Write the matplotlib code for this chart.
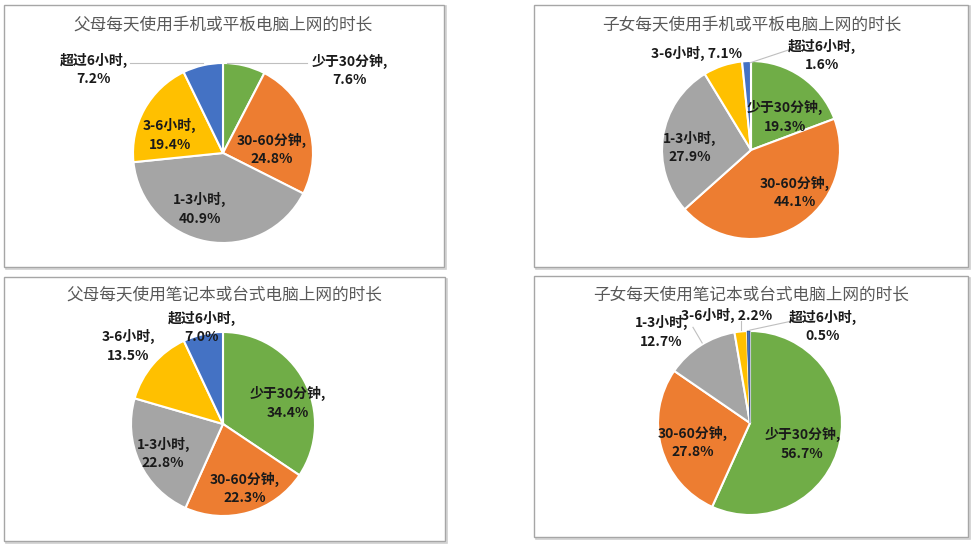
import matplotlib.pyplot as plt
from matplotlib.patches import Rectangle

plt.rcParams['font.family'] = ['Noto Sans CJK SC', 'DejaVu Sans']

# 数据
categories = ['少于30分钟', '30-60分钟', '1-3小时', '3-6小时', '超过6小时']
colors = ['#70AD47', '#ED7D31', '#A5A5A5', '#FFC000', '#4472C4']

titles = ['父母每天使用手机或平板电脑上网的时长',
          '子女每天使用手机或平板电脑上网的时长',
          '父母每天使用笔记本或台式电脑上网的时长',
          '子女每天使用笔记本或台式电脑上网的时长']
parent_mobile = [7.6, 24.8, 40.9, 19.4, 7.2]
child_mobile = [19.3, 44.1, 27.9, 7.1, 1.6]
parent_pc = [34.4, 22.3, 22.8, 13.5, 7.0]
child_pc = [56.7, 27.8, 12.7, 2.2, 0.5]
values = [parent_mobile, child_mobile, parent_pc, child_pc]

# 布局 (像素)
W, H = 971, 546
boxes = [(4, 5, 444, 267), (534, 5, 968, 267),
         (4, 277, 445, 541), (534, 276, 968, 537)]
centers = [(223, 153, 90), (751, 150, 89), (223, 424, 92), (750, 423, 92)]
title_pos = [(223, 25), (752, 25), (224, 295), (751, 295)]
# 标签位置, 以半径为单位
label_pos = [
    [(1.41, 0.92), (0.54, 0.04), (-0.26, -0.62), (-0.59, 0.20), (-1.44, 0.93)],
    [(0.38, 0.37), (0.49, -0.48), (-0.69, 0.03), (-0.61, 1.09), (0.80, 1.06)],
    [(0.70, 0.23), (0.24, -0.70), (-0.65, -0.32), (-1.03, 0.85), (-0.23, 1.05)],
    [(0.57, -0.23), (-0.62, -0.21), (-0.96, 0.99), (-0.25, 1.17), (0.79, 1.05)],
]
one_line = [[], [3], [], [3]]
leaders = [
    [((0.04, 1.0), (0.93, 1.0)), ((-1.03, 1.0), (-0.22, 1.0))],
    [((-0.01, 0.98), (0.44, 1.13))],
    [],
    [((0.0, 1.01), (0.51, 1.12)), ((-0.62, 1.04), (-0.52, 0.87)),
     ((-0.1, 1.11), (-0.1, 1.01))],
]

fig = plt.figure(figsize=(W / 100, H / 100), dpi=100)
fig.patch.set_facecolor('white')

for i in range(4):
    x0, y0, x1, y1 = boxes[i]
    # 阴影 + 边框
    fig.add_artist(Rectangle(((x0 + 1.5) / W, 1 - (y1 + 1.5) / H), (x1 - x0) / W, (y1 - y0) / H,
                             transform=fig.transFigure, facecolor='none', edgecolor='#d0d0d0',
                             lw=1.2, zorder=-20))
    fig.add_artist(Rectangle((x0 / W, 1 - y1 / H), (x1 - x0) / W, (y1 - y0) / H,
                             transform=fig.transFigure, facecolor='white', edgecolor='#a6a6a6',
                             lw=1.0, zorder=-10))
    tx, ty = title_pos[i]
    fig.text(tx / W, 1 - ty / H, titles[i], ha='center', va='center', fontsize=12, color='#595959')

    cx, cy, r = centers[i]
    h = 1.6 * r
    ax = fig.add_axes([(cx - h) / W, 1 - (cy + h) / H, 2 * h / W, 2 * h / H])
    ax.patch.set_visible(False)
    wedges, _ = ax.pie(values[i], colors=colors, startangle=90, counterclock=False, radius=1,
                       wedgeprops=dict(edgecolor='white', linewidth=1.5))
    for w, v in zip(wedges, values[i]):
        if v < 1:  # 很窄的扇区
            w.set_linewidth(0.4)
            w.set_edgecolor('#1f3864')
    ax.set_xlim(-1.6, 1.6)
    ax.set_ylim(-1.6, 1.6)
    ax.axis('off')
    for (a, b) in leaders[i]:
        ax.plot([a[0], b[0]], [a[1], b[1]], color='#bfbfbf', lw=0.8)
    for j in range(len(categories)):
        if j in one_line[i]:
            s = '%s, %.1f%%' % (categories[j], values[i][j])
        else:
            s = '%s,\n%.1f%%' % (categories[j], values[i][j])
        lx, ly = label_pos[i][j]
        ax.text(lx, ly, s, ha='center', va='center', fontsize=10, fontweight='bold',
                color='#1a1a1a', linespacing=1.4)

plt.savefig('out.png', dpi=100)
